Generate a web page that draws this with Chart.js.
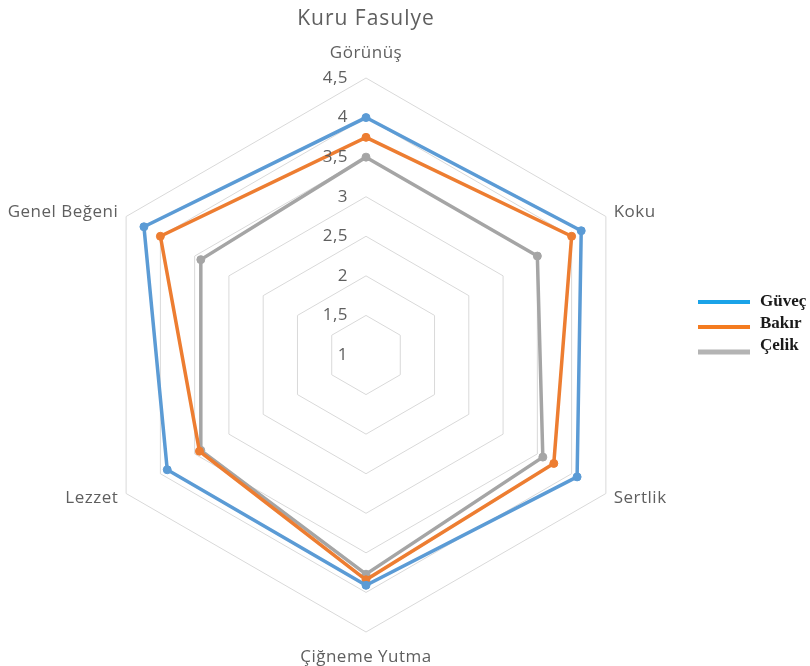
<!DOCTYPE html>
<html>
<head>
<meta charset="utf-8">
<script src="https://cdn.jsdelivr.net/npm/chart.js@4/dist/chart.umd.min.js"></script>
<style>
  html, body { margin: 0; padding: 0; background: #ffffff; overflow: hidden; }
  #wrap { width: 810px; height: 666px; position: relative; }
</style>
</head>
<body>
<div id="wrap"><canvas id="chart"></canvas></div>
<script>
"use strict";

// Chart data
const categories = ["Görünüş", "Koku", "Sertlik", "Çiğneme Yutma", "Lezzet", "Genel Beğeni"];
const seriesNames = ["Güveç", "Bakır", "Çelik"];
const guvecValues = [4.0, 4.14, 4.08, 3.91, 3.9, 4.24];
const bakirValues = [3.75, 4.0, 3.74, 3.84, 3.43, 4.0];
const celikValues = [3.5, 3.5, 3.58, 3.77, 3.41, 3.41];
const scaleMin = 1;
const scaleMax = 4.5;
const scaleStep = 0.5;

const lineColors = ["#5B9BD5", "#ED7D31", "#A5A5A5"];
const legendColors = ["#1AA3E8", "#F47B20", "#B4B4B4"];
const textColor = "#5f5f5f";
const labelFont = "17px 'Open Sans'";

/**
 * Wider letter spacing for the title (drawn before the datasets)
 */
const titleSpacingPlugin = {
  id: "titleSpacing",
  beforeDraw(chart) {
    chart.ctx.letterSpacing = "1px";
  },
  beforeDatasetsDraw(chart) {
    chart.ctx.letterSpacing = "0px";
  },
};

/**
 * Tick labels left of the vertical axis, and category labels
 * placed around the outer ring (Excel style)
 */
const radarTextPlugin = {
  id: "radarText",
  afterDatasetsDraw(chart) {
    const scale = chart.scales.r;
    const ctx = chart.ctx;
    ctx.save();
    ctx.font = labelFont;
    ctx.fillStyle = textColor;
    ctx.textBaseline = "middle";
    ctx.letterSpacing = "0.5px";

    // tick labels
    ctx.textAlign = "right";
    scale.ticks.forEach((tick) => {
      const d = scale.getDistanceFromCenterForValue(tick.value);
      const label = String(tick.value).replace(".", ",");
      ctx.fillText(label, scale.xCenter - 18, scale.yCenter - d);
    });

    // category labels
    chart.data.labels.forEach((label, i) => {
      const angle = scale.getIndexAngle(i) - Math.PI / 2;
      const cos = Math.cos(angle);
      const vertical = Math.abs(cos) < 0.01;
      const pos = scale.getPointPosition(i, scale.drawingArea + (vertical ? 25 : 9));
      ctx.textAlign = vertical ? "center" : cos > 0 ? "left" : "right";
      ctx.fillText(label, pos.x, pos.y);
    });
    ctx.restore();
  },
};

/**
 * Legend on the right, lines + bold serif names
 */
const sideLegendPlugin = {
  id: "sideLegend",
  afterDraw(chart) {
    const scale = chart.scales.r;
    const ctx = chart.ctx;
    ctx.save();
    ctx.font = "bold 17px 'Liberation Serif'";
    ctx.textAlign = "left";
    ctx.textBaseline = "middle";
    chart.data.datasets.forEach((ds, i) => {
      const y = scale.yCenter - 53 + i * 25;
      ctx.strokeStyle = legendColors[i];
      ctx.lineWidth = i === 2 ? 5 : 4;
      ctx.beginPath();
      ctx.moveTo(698, y);
      ctx.lineTo(750, y);
      ctx.stroke();
      ctx.fillStyle = "#1a1a1a";
      ctx.fillText(ds.label, 760, y - i * 3);
    });
    ctx.restore();
  },
};

const valueSets = [guvecValues, bakirValues, celikValues];

new Chart(document.getElementById("chart"), {
  type: "radar",
  data: {
    labels: categories,
    datasets: seriesNames.map((name, i) => ({
      label: name,
      data: valueSets[i],
      borderColor: lineColors[i],
      backgroundColor: lineColors[i],
      pointBackgroundColor: lineColors[i],
      pointBorderColor: lineColors[i],
      borderWidth: 3.5,
      pointRadius: 4,
      pointBorderWidth: 1,
      fill: false,
      tension: 0,
    })),
  },
  options: {
    responsive: true,
    maintainAspectRatio: false,
    animation: false,
    layout: { padding: { left: 0, right: 78, top: 0, bottom: 34 } },
    plugins: {
      legend: { display: false },
      tooltip: { enabled: false },
      title: {
        display: true,
        text: "Kuru Fasulye",
        color: textColor,
        font: { family: "'Open Sans'", size: 21, weight: "normal" },
        padding: { top: 6, bottom: 46.8 },
      },
    },
    scales: {
      r: {
        min: scaleMin,
        max: scaleMax,
        ticks: { stepSize: scaleStep, display: false },
        grid: { color: "#D9D9D9", lineWidth: 1 },
        angleLines: { display: false },
        pointLabels: { display: false },
      },
    },
  },
  plugins: [titleSpacingPlugin, radarTextPlugin, sideLegendPlugin],
});
</script>
</body>
</html>
